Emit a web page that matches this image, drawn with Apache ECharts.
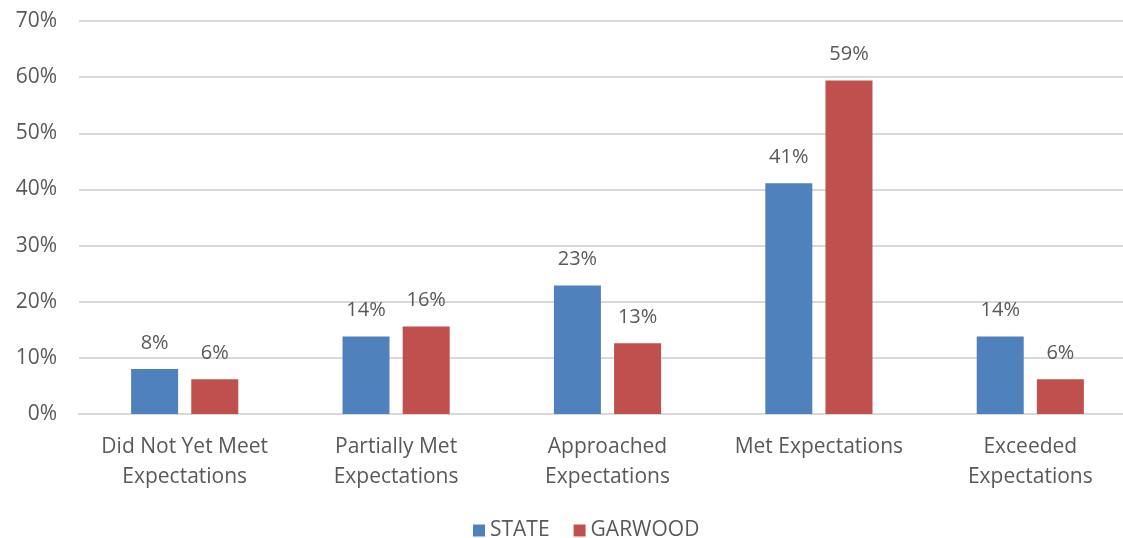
<!DOCTYPE html>
<html>
<head>
<meta charset="utf-8">
<script src="https://cdn.jsdelivr.net/npm/echarts@6/dist/echarts.min.js"></script>
<style>
  html, body { margin: 0; padding: 0; background: #fff; overflow: hidden; }
  /* plot area runs a bit past the right edge in the reference */
  #chart { width: 1136px; height: 538px; }
</style>
</head>
<body>
<div id="chart"></div>
<script>
const categories = ['Did Not Yet Meet\nExpectations', 'Partially Met\nExpectations', 'Approached\nExpectations', 'Met Expectations', 'Exceeded\nExpectations']
const stateValues = [8.0, 13.8, 22.9, 41.1, 13.8]
const garwoodValues = [6.2, 15.6, 12.6, 59.4, 6.2]
const yTicks = [0, 10, 20, 30, 40, 50, 60, 70]

const textColor = '#595959'
const fontFamily = '"Open Sans", sans-serif'

const chart = echarts.init(document.getElementById('chart'))

function makeSeries(name, data, color) {
  return {
    name: name,
    type: 'bar',
    data: data,
    barWidth: 47,
    barGap: '28%',
    itemStyle: { color: color },
    label: {
      show: true,
      position: 'top',
      distance: 16,
      color: textColor,
      fontSize: 20,
      fontFamily: fontFamily,
      formatter: (p) => Math.round(p.value) + '%'
    }
  }
}

chart.setOption({
  animation: false,
  textStyle: { fontFamily: fontFamily },
  grid: { left: 79, right: 0, top: 21, bottom: 124 },
  legend: {
    bottom: -8,
    left: 468,
    itemWidth: 12,
    itemHeight: 12,
    itemGap: 24,
    icon: 'rect',
    textStyle: { color: textColor, fontSize: 21, fontFamily: fontFamily },
    data: ['STATE', 'GARWOOD']
  },
  xAxis: {
    type: 'category',
    data: categories,
    axisLine: { lineStyle: { color: '#d9d9d9', width: 2 } },
    axisTick: { show: false },
    axisLabel: {
      color: textColor,
      fontSize: 21,
      lineHeight: 30,
      margin: 18,
      interval: 0,
      fontFamily: fontFamily
    }
  },
  yAxis: {
    type: 'value',
    min: yTicks[0],
    max: yTicks[yTicks.length - 1],
    interval: 10,
    axisLine: { show: false },
    axisTick: { show: false },
    splitLine: { lineStyle: { color: '#d9d9d9', width: 2 } },
    axisLabel: {
      color: textColor,
      fontSize: 21,
      margin: 22,
      fontFamily: fontFamily,
      formatter: (v) => v + '%'
    }
  },
  series: [
    makeSeries('STATE', stateValues, '#4f81bd'),
    makeSeries('GARWOOD', garwoodValues, '#c0504d')
  ]
})
</script>
</body>
</html>
